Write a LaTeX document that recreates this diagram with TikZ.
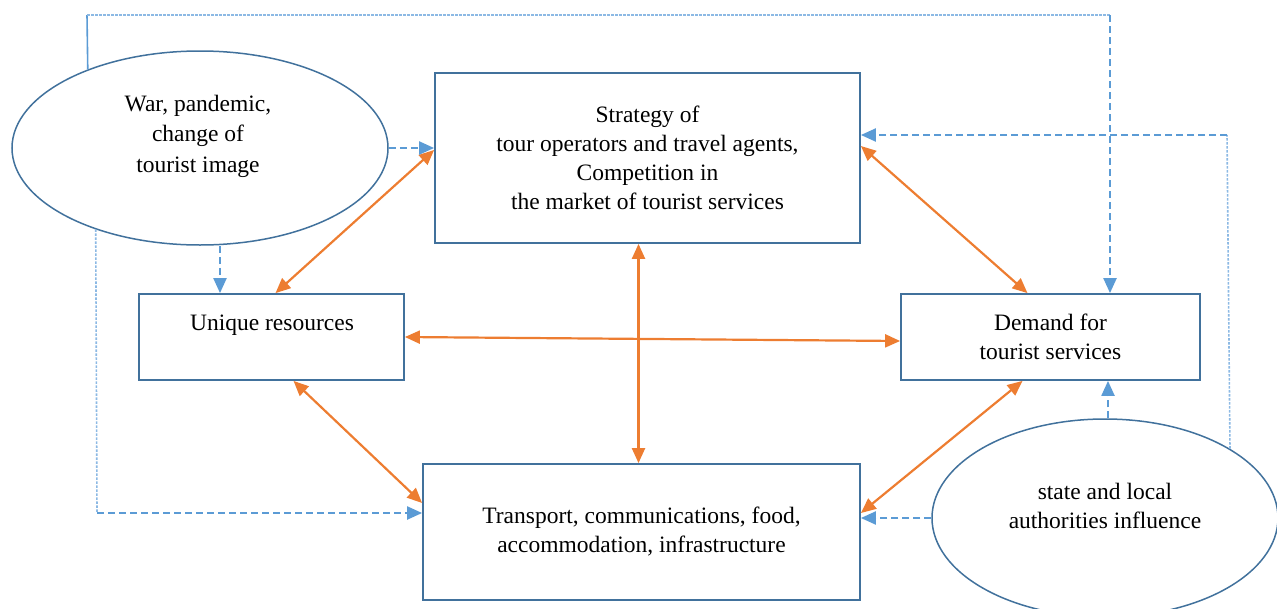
\documentclass[tikz,border=0pt]{standalone}
\usepackage{fontspec}
\setmainfont{Liberation Serif}
\usetikzlibrary{arrows.meta,shapes.geometric,calc}
\definecolor{boxline}{RGB}{65,113,156}
\definecolor{infl}{RGB}{91,155,213}
\definecolor{routeclr}{RGB}{140,185,228}
\definecolor{link}{RGB}{237,125,49}
\begin{document}
\begin{tikzpicture}[x=1pt,y=-1pt,
  box/.style={draw=boxline,line width=1.8pt,rectangle,inner sep=0pt,align=center,
    font=\fontsize{23.5}{29}\selectfont},
  oval/.style={draw=boxline,line width=1.5pt,ellipse,inner sep=0pt},
  txt/.style={inner sep=0pt,align=center,font=\fontsize{23.5}{29}\selectfont},
  mutual/.style={draw=link,line width=2.2pt,{Triangle[length=15pt,width=13pt]}-{Triangle[length=15pt,width=13pt]}},
  effect/.style={draw=infl,line width=2.2pt,dash pattern=on 7pt off 4pt,-{Triangle[length=15pt,width=13pt]}},
  route/.style={draw=routeclr,line width=1.6pt,dash pattern=on 2.5pt off 1.5pt},
  routesolid/.style={draw=infl,line width=1.6pt}]
\useasboundingbox (0,0) rectangle (1277,608);

% factor boxes
\node[box,minimum width=425pt,minimum height=170pt] (strat) at (647.5,158)
  {Strategy of\\tour operators and travel agents,\\Competition in\\the market of tourist services};
\node[box,minimum width=265pt,minimum height=86pt] (ures) at (271.5,337) {};
\node[txt] (urestxt) at (272,325) {Unique resources};
\node[box,minimum width=299pt,minimum height=86pt] (dem) at (1050.5,337)
  {Demand for\\tourist services};
\node[box,minimum width=437pt,minimum height=136pt] (bot) at (641.5,532)
  {Transport, communications, food,\\accommodation, infrastructure};

% external influences
\node[oval,minimum width=376pt,minimum height=194pt] (war) at (200,148) {};
\node[txt,font=\fontsize{23.5}{30.5}\selectfont] (wartxt) at (198,136)
  {War, pandemic,\\change of\\tourist image};
\node[oval,minimum width=346pt,minimum height=198pt] (auth) at (1105,518) {};
\node[txt] (authtxt) at (1105,506) {state and local\\authorities influence};

% mutual links between factors
\draw[mutual] ([xshift=4pt]ures.north) -- ([yshift=8pt]strat.west);
\draw[mutual] ([yshift=12pt]strat.east) -- ([xshift=-23pt]dem.north);
\draw[mutual] (ures.east) -- ([yshift=-4pt]dem.west);
\draw[mutual] ([xshift=-9pt]strat.south) -- ([xshift=-3pt]bot.north);
\draw[mutual] ([xshift=22pt]ures.south) -- ([yshift=29pt]bot.west);
\draw[mutual] ([xshift=-28pt]dem.south) -- ([yshift=19pt]bot.east);

% influence of war, pandemic and image
\coordinate (tl) at (87,15);
\coordinate (tr) at (1110,15);
\draw[routesolid] (war.145.6) -- (tl);
\draw[route] (tl) -- (tr);
\draw[effect] (tr) -- (tr |- dem.north);
\draw[effect] (war.east) -- (war.east -| strat.west);
\draw[effect] ([xshift=20pt]war.south) -- ([xshift=20pt]war.south |- ures.north);
\coordinate (bl) at (97,513);
\draw[route] (war.218.3) -- (bl);
\draw[effect] (bl) -- (bl -| bot.west);

% influence of state and local authorities
\draw[effect] ([xshift=3pt]auth.north) -- ([xshift=3pt]auth.north |- dem.south);
\draw[effect] (auth.west) -- (auth.west -| bot.east);
\coordinate (rt) at (1227,135);
\draw[route] (auth.29.8) -- (rt);
\draw[effect] (rt) -- (rt -| strat.east);
\end{tikzpicture}
\end{document}
